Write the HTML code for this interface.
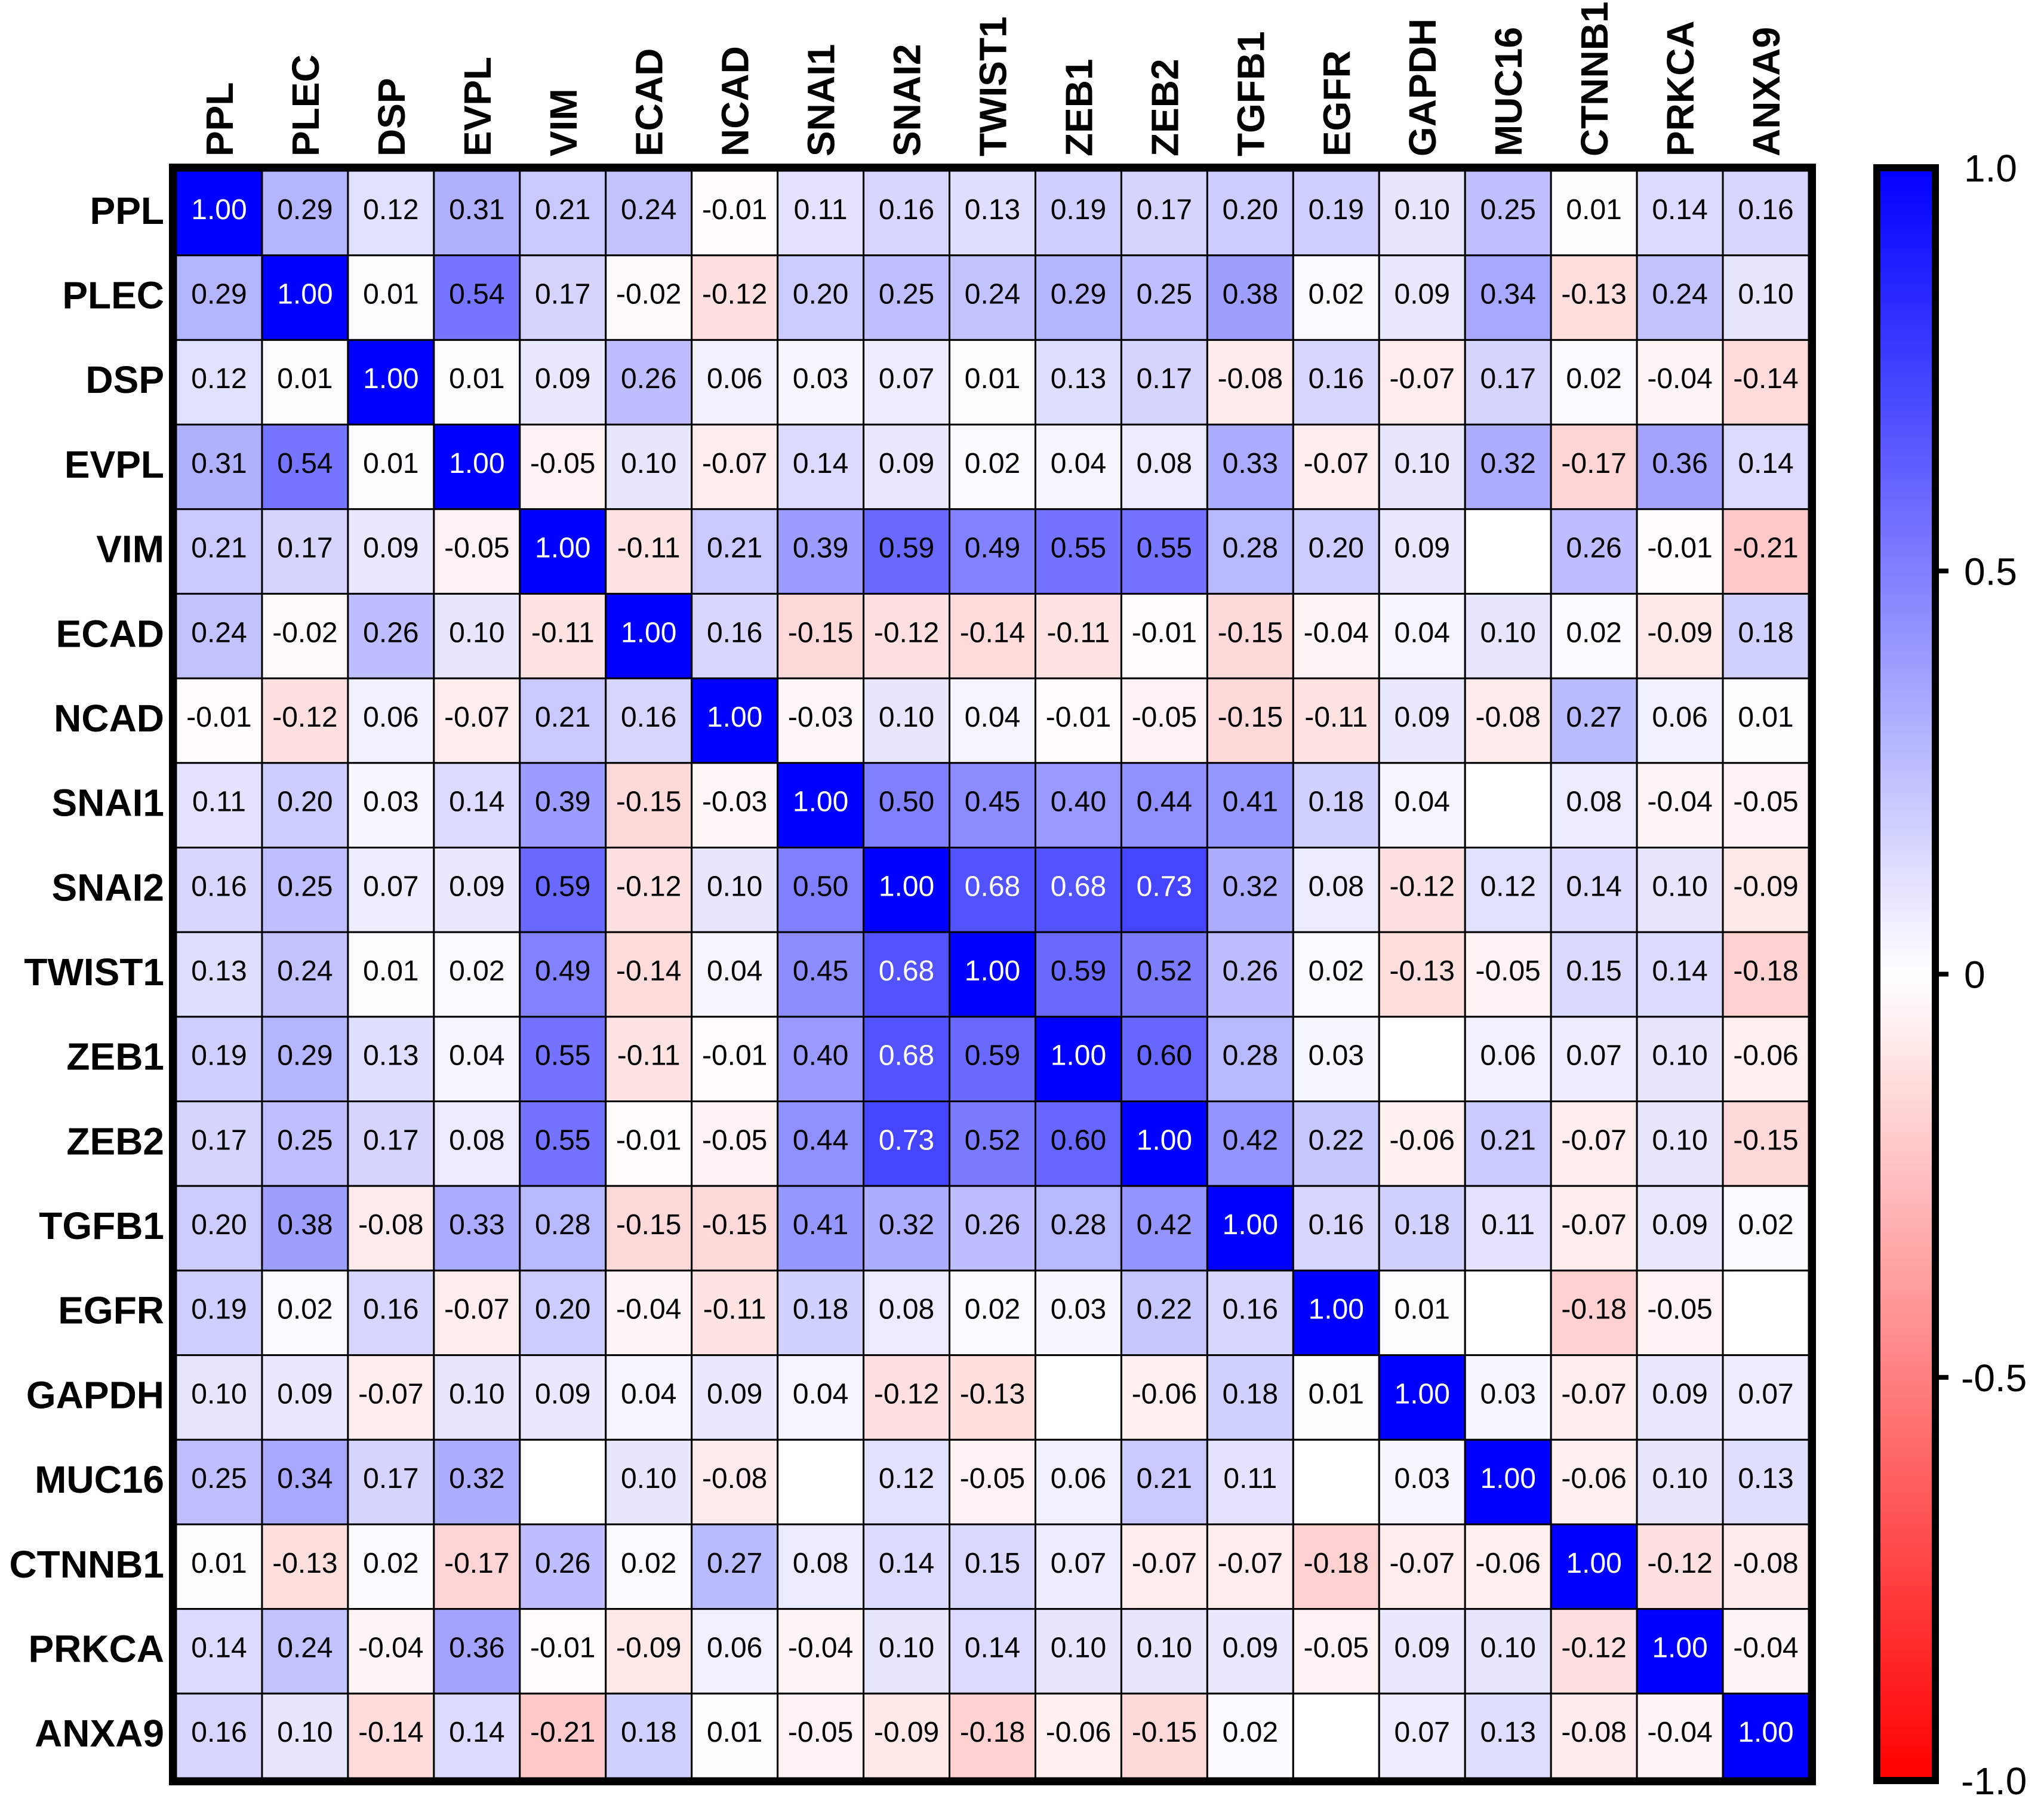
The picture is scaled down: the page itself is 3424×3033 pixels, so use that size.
<!DOCTYPE html>
<html><head><meta charset="utf-8"><style>
html,body{margin:0;padding:0;background:#fff;}
svg{display:block;}
</style></head><body>
<svg id="chart" width="3424" height="3033" viewBox="0 0 3424 3033" xmlns="http://www.w3.org/2000/svg">
<defs><linearGradient id="cbGrad" x1="0" y1="0" x2="0" y2="1">
<stop offset="0" stop-color="#0000ff"/><stop offset="0.5" stop-color="#ffffff"/><stop offset="1" stop-color="#ff0000"/>
</linearGradient></defs>
<g id="cells"></g>
<g id="labels"></g>
<g id="cbar"></g>
</svg>
<script>
const genes = ["PPL","PLEC","DSP","EVPL","VIM","ECAD","NCAD","SNAI1","SNAI2","TWIST1","ZEB1","ZEB2","TGFB1","EGFR","GAPDH","MUC16","CTNNB1","PRKCA","ANXA9"];
const r0 = [1,0.29,0.12,0.31,0.21,0.24,-0.01,0.11,0.16,0.13,0.19,0.17,0.20,0.19,0.10,0.25,0.01,0.14,0.16];
const r1 = [0.29,1,0.01,0.54,0.17,-0.02,-0.12,0.20,0.25,0.24,0.29,0.25,0.38,0.02,0.09,0.34,-0.13,0.24,0.10];
const r2 = [0.12,0.01,1,0.01,0.09,0.26,0.06,0.03,0.07,0.01,0.13,0.17,-0.08,0.16,-0.07,0.17,0.02,-0.04,-0.14];
const r3 = [0.31,0.54,0.01,1,-0.05,0.10,-0.07,0.14,0.09,0.02,0.04,0.08,0.33,-0.07,0.10,0.32,-0.17,0.36,0.14];
const r4 = [0.21,0.17,0.09,-0.05,1,-0.11,0.21,0.39,0.59,0.49,0.55,0.55,0.28,0.20,0.09,null,0.26,-0.01,-0.21];
const r5 = [0.24,-0.02,0.26,0.10,-0.11,1,0.16,-0.15,-0.12,-0.14,-0.11,-0.01,-0.15,-0.04,0.04,0.10,0.02,-0.09,0.18];
const r6 = [-0.01,-0.12,0.06,-0.07,0.21,0.16,1,-0.03,0.10,0.04,-0.01,-0.05,-0.15,-0.11,0.09,-0.08,0.27,0.06,0.01];
const r7 = [0.11,0.20,0.03,0.14,0.39,-0.15,-0.03,1,0.50,0.45,0.40,0.44,0.41,0.18,0.04,null,0.08,-0.04,-0.05];
const r8 = [0.16,0.25,0.07,0.09,0.59,-0.12,0.10,0.50,1,0.68,0.68,0.73,0.32,0.08,-0.12,0.12,0.14,0.10,-0.09];
const r9 = [0.13,0.24,0.01,0.02,0.49,-0.14,0.04,0.45,0.68,1,0.59,0.52,0.26,0.02,-0.13,-0.05,0.15,0.14,-0.18];
const r10 = [0.19,0.29,0.13,0.04,0.55,-0.11,-0.01,0.40,0.68,0.59,1,0.60,0.28,0.03,null,0.06,0.07,0.10,-0.06];
const r11 = [0.17,0.25,0.17,0.08,0.55,-0.01,-0.05,0.44,0.73,0.52,0.60,1,0.42,0.22,-0.06,0.21,-0.07,0.10,-0.15];
const r12 = [0.20,0.38,-0.08,0.33,0.28,-0.15,-0.15,0.41,0.32,0.26,0.28,0.42,1,0.16,0.18,0.11,-0.07,0.09,0.02];
const r13 = [0.19,0.02,0.16,-0.07,0.20,-0.04,-0.11,0.18,0.08,0.02,0.03,0.22,0.16,1,0.01,null,-0.18,-0.05,null];
const r14 = [0.10,0.09,-0.07,0.10,0.09,0.04,0.09,0.04,-0.12,-0.13,null,-0.06,0.18,0.01,1,0.03,-0.07,0.09,0.07];
const r15 = [0.25,0.34,0.17,0.32,null,0.10,-0.08,null,0.12,-0.05,0.06,0.21,0.11,null,0.03,1,-0.06,0.10,0.13];
const r16 = [0.01,-0.13,0.02,-0.17,0.26,0.02,0.27,0.08,0.14,0.15,0.07,-0.07,-0.07,-0.18,-0.07,-0.06,1,-0.12,-0.08];
const r17 = [0.14,0.24,-0.04,0.36,-0.01,-0.09,0.06,-0.04,0.10,0.14,0.10,0.10,0.09,-0.05,0.09,0.10,-0.12,1,-0.04];
const r18 = [0.16,0.10,-0.14,0.14,-0.21,0.18,0.01,-0.05,-0.09,-0.18,-0.06,-0.15,0.02,null,0.07,0.13,-0.08,-0.04,1];
const matrix = [r0,r1,r2,r3,r4,r5,r6,r7,r8,r9,r10,r11,r12,r13,r14,r15,r16,r17,r18];
const cbTicks = [1.0,0.5,0,-0.5,-1.0];
const cbTickLabels = ["1.0","0.5","0","-0.5","-1.0"];

const NS="http://www.w3.org/2000/svg";
const X0=295, X1=3030, Y0=286, Y1=2978;
const n=genes.length, cw=(X1-X0)/n, ch=(Y1-Y0)/n;
const xPos=i=>X0+i*cw, yPos=j=>Y0+j*ch;
function color(v){
  if(v===null) return "#ffffff";
  const t=Math.min(1,Math.abs(v)); const c=Math.round(255*(1-t));
  return v>=0?`rgb(${c},${c},255)`:`rgb(255,${c},${c})`;
}
function mk(tag,attrs,parent){const e=document.createElementNS(NS,tag);for(const k in attrs)e.setAttribute(k,attrs[k]);parent.appendChild(e);return e;}
const cells=document.getElementById('cells'), labels=document.getElementById('labels'), cbar=document.getElementById('cbar');
matrix.forEach((row,j)=>{row.forEach((v,i)=>{
  const r=mk('rect',{x:xPos(i),y:yPos(j),width:cw,height:ch,fill:color(v),stroke:'#000','stroke-width':3},cells);
  
  
  if(v!==null){
    const t=mk('text',{x:xPos(i)+cw/2,y:yPos(j)+ch/2+10,'text-anchor':'middle','font-family':'Liberation Sans, sans-serif','font-size':48,fill:v>0.6?'#fff':'#000'},cells);
    t.textContent=v.toFixed(2);
    
    
  }
});});
mk('rect',{x:X0-6,y:Y0-6,width:X1-X0+12,height:Y1-Y0+12,fill:'none',stroke:'#000','stroke-width':12},cells);
genes.forEach((g,j)=>{
  const t=mk('text',{x:275,y:yPos(j)+ch/2+18,'text-anchor':'end','font-family':'Liberation Sans, sans-serif','font-weight':'bold','font-size':64,fill:'#000'},labels);
  t.textContent=g;
  
  
});
genes.forEach((g,i)=>{
  const cx=xPos(i)+cw/2+23, cy=262;
  const t=mk('text',{x:cx,y:cy,transform:`rotate(-90 ${cx} ${cy})`,'text-anchor':'start','font-family':'Liberation Sans, sans-serif','font-weight':'bold','font-size':64,fill:'#000'},labels);
  t.textContent=g;
  
  
});
const CBX=3144, CBW=98, CBY0=281, CBY1=2982;
const cbY=v=>CBY0+(1-v)/2*(CBY1-CBY0);
const bar=mk('rect',{x:CBX,y:CBY0,width:CBW,height:CBY1-CBY0,fill:'url(#cbGrad)',stroke:'#000','stroke-width':12},cbar);


cbTicks.forEach((v,k)=>{
  const y=cbY(v);
  if(k>0&&k<cbTicks.length-1) mk('line',{x1:CBX+CBW+6,x2:CBX+CBW+22,y1:y,y2:y,stroke:'#000','stroke-width':8},cbar);
  const t=mk('text',{x:v<0?3285:3290,y:y+23,'font-family':'Liberation Sans, sans-serif','font-size':64,fill:'#000'},cbar);
  t.textContent=cbTickLabels[k];
  
  
});
</script>
</body></html>
